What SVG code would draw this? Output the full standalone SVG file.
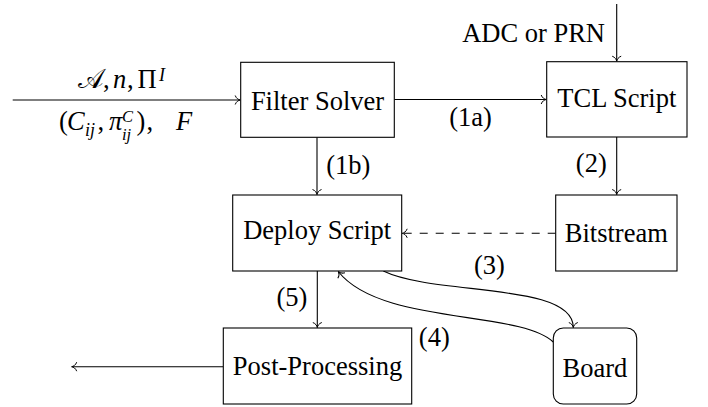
<svg xmlns="http://www.w3.org/2000/svg" width="708" height="407" viewBox="0 0 708 407">
<defs>
<marker id="to" markerUnits="userSpaceOnUse" markerWidth="12" markerHeight="12" viewBox="-6 -6 12 12" refX="0" refY="0" orient="auto">
<path d="M-5,-4.5 C-4,-1.6 -1.6,-0.3 0,0 C-1.6,0.3 -4,1.6 -5,4.5" fill="none" stroke="#000" stroke-width="1"/>
</marker>
<style>
.box{fill:#fff;stroke:#000;stroke-width:1.1}
.c{text-anchor:middle}
.edge{fill:none;stroke:#000;stroke-width:1.1;marker-end:url(#to)}
.it{font-style:italic}
.sm{font-size:18px}
.xs{font-size:16.5px}
</style>
</defs>
<rect width="708" height="407" fill="#fff"/>
<g id="connectors">
<path class="edge" d="M12.7,100 H240.2"/>
<path class="edge" d="M394.3,99.5 H546.2"/>
<path class="edge" d="M616.7,4 V61.2"/>
<path class="edge" d="M616.7,137 V194.5"/>
<path class="edge" d="M317,137.3 V194.5"/>
<path class="edge" d="M555.7,233.3 H402.2" stroke-dasharray="8,8"/>
<path class="edge" d="M317.3,271 V327.5"/>
<path class="edge" d="M223.3,366.7 H71.7"/>
<path class="edge" d="M383.3,271 C435,296 573.3,282 573.3,327.5"/>
<path class="edge" d="M553.3,342 C520,310 380,325 338.3,271.5"/>
</g>
<g font-family="'Liberation Serif', 'Times New Roman', serif" font-size="26.5" fill="#000">
<g id="edge-labels">
<text><tspan x="78" y="87.5">𝒜</tspan><tspan x="103" y="87.5">,</tspan><tspan x="113" y="87.5" class="it">n</tspan><tspan x="127" y="87.5">,</tspan><tspan x="137.5" y="87.5">Π</tspan><tspan x="159" y="80.5" class="it sm">I</tspan></text>
<text><tspan x="59" y="130">(</tspan><tspan x="67" y="130" class="it">C</tspan><tspan x="85" y="136" class="it sm">ij</tspan><tspan x="97.5" y="130">,</tspan><tspan x="109" y="130" class="it">π</tspan><tspan x="122" y="121.5" class="it xs">C</tspan><tspan x="122" y="139.5" class="it xs">ij</tspan><tspan x="136.5" y="130">)</tspan><tspan x="146.5" y="130">,</tspan><tspan x="176" y="130" class="it">F</tspan></text>
<text x="605" y="41.7" text-anchor="end">ADC or PRN</text>
<text x="470.5" y="125.5" class="c">(1a)</text>
<text x="348.3" y="173.5" class="c">(1b)</text>
<text x="591.3" y="172" class="c">(2)</text>
<text x="489.5" y="273.5" class="c">(3)</text>
<text x="434.3" y="346" class="c">(4)</text>
<text x="292" y="305.5" class="c">(5)</text>
</g>
<g id="filter-solver">
<rect class="box" x="240.7" y="62.3" width="153.6" height="75"/>
<text x="317.5" y="110" class="c">Filter Solver</text>
</g>
<g id="tcl-script">
<rect class="box" x="546.7" y="61.7" width="140.3" height="75.3"/>
<text x="616.8" y="106.7" class="c">TCL Script</text>
</g>
<g id="deploy-script">
<rect class="box" x="232.7" y="195" width="169" height="76"/>
<text x="317.2" y="239.3" class="c">Deploy Script</text>
</g>
<g id="bitstream">
<rect class="box" x="555.7" y="195" width="121.3" height="76"/>
<text x="616.3" y="241.7" class="c">Bitstream</text>
</g>
<g id="post-processing">
<rect class="box" x="223.3" y="328" width="188.4" height="76"/>
<text x="317.5" y="375" class="c">Post-Processing</text>
</g>
<g id="board">
<rect class="box" x="553.3" y="328" width="83.4" height="76" rx="10" ry="10"/>
<text x="595" y="377" class="c">Board</text>
</g>
</g>
</svg>
